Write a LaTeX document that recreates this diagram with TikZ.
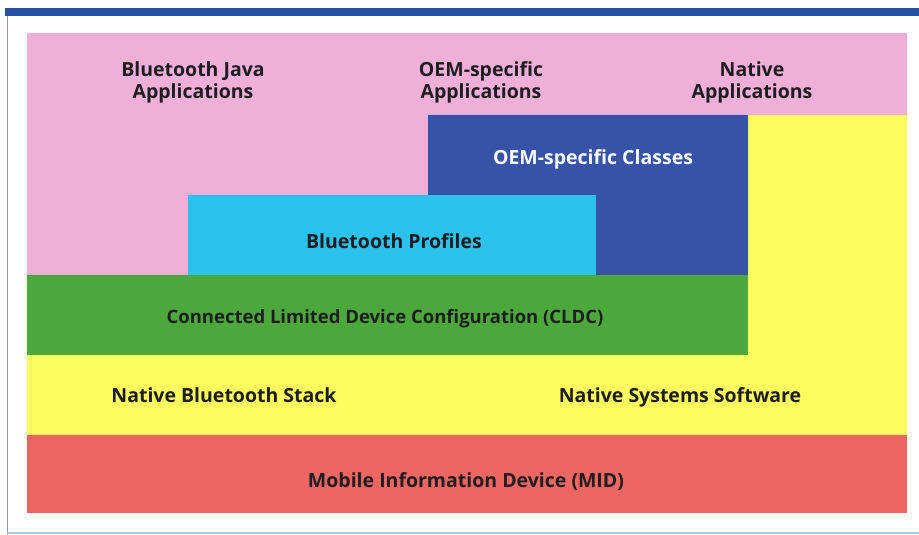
\documentclass[tikz,border=0pt]{standalone}
\usepackage{fontspec}
\setmainfont{Open Sans}
\definecolor{barblue}{HTML}{2552A3}
\definecolor{appspink}{HTML}{EFAFD9}
\definecolor{nativeyellow}{HTML}{FEFB5E}
\definecolor{oemblue}{HTML}{3653A8}
\definecolor{profcyan}{HTML}{2CC2EE}
\definecolor{cldcgreen}{HTML}{4CA83A}
\definecolor{midred}{HTML}{EE6662}
\definecolor{labeltext}{HTML}{1E1E22}
\definecolor{rulegray}{HTML}{9A9A9A}
\definecolor{rulecyan}{HTML}{A8CBEA}
\tikzset{
  layerlabel/.style={font=\bfseries\fontsize{19.5}{22}\selectfont,text=labeltext,align=center,inner sep=0pt,anchor=base}
}
\begin{document}
\begin{tikzpicture}[x=1pt,y=-1pt]
 \useasboundingbox (0,0) rectangle (919,535);
 \fill[white](0,0) rectangle (919,535);
 % frame
 \fill[barblue](5,8) rectangle (919,16);
 \draw[rulegray,line width=1pt](7,16)--(7,535);
 \draw[rulecyan,line width=2pt](7,533)--(919,533);
 % layers
 \fill[appspink](27,33) rectangle (907,115);
 \fill[appspink](27,115) rectangle (748,275);
 \fill[nativeyellow](748,115) rectangle (907,435);
 \fill[nativeyellow](27,355) rectangle (907,435);
 \fill[oemblue](428,115) rectangle (748,275);
 \fill[profcyan](188,195) rectangle (596,275);
 \fill[cldcgreen](27,275) rectangle (748,355);
 \fill[midred](27,435) rectangle (907,513);
 % labels
 \node[layerlabel] (btapps) at (193,99) {Bluetooth Java\\Applications};
 \node[layerlabel] (oemapps) at (481,99) {OEM-specific\\Applications};
 \node[layerlabel] (natapps) at (752,99) {Native\\Applications};
 \node[layerlabel,text=white] (oemcls) at (593,164) {OEM-specific Classes};
 \node[layerlabel] (btprof) at (394,248) {Bluetooth Profiles};
 \node[layerlabel,font=\bfseries\fontsize{18.5}{22}\selectfont] (cldc) at (385,323) {Connected Limited Device Configuration (CLDC)};
 \node[layerlabel] (btstack) at (224,402) {Native Bluetooth Stack};
 \node[layerlabel] (natsys) at (680,402) {Native Systems Software};
 \node[layerlabel] (mid) at (466,487) {Mobile Information Device (MID)};
\end{tikzpicture}
\end{document}
